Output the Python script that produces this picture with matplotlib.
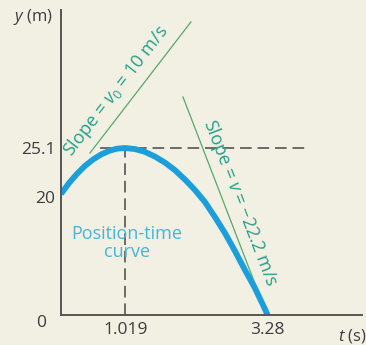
import numpy as np
import matplotlib
matplotlib.use('Agg')
import matplotlib.pyplot as plt

# ---------------------- Data ---------------------- #
# position-time curve (t in s, y in m)
curve_t = [0.0, 0.127, 0.254, 0.381, 0.508, 0.635, 0.762, 0.889, 1.019,
           1.175, 1.333, 1.492, 1.651, 1.810, 1.968, 2.127, 2.286, 2.444,
           2.603, 2.762, 2.921, 3.079, 3.238, 3.28]
curve_y = [20.32, 21.45, 22.41, 23.24, 23.90, 24.42, 24.80, 25.03, 25.1,
           24.99, 24.70, 24.21, 23.58, 22.79, 21.82, 20.73, 19.15, 16.61,
           13.90, 10.85, 7.63, 4.58, 1.02, 0.0]

# tangent segments (drawn slightly offset from the curve, like the figure)
tan1_t = [0.46, 2.063]
tan1_y = [24.58, 38.21]
tan2_t = [1.937, 3.254]
tan2_y = [30.41, 0.51]

t_peak, y_peak = 1.019, 25.1
t_land = 3.28

xtick_vals = [1.019, 3.28]
xtick_labels = ['1.019', '3.28']
ytick_vals = [0, 20, 25.1]
ytick_labels = ['0', '20', '25.1']

# the textbook axis is not to scale: piecewise stretch of the y axis
Y_ANCH = [0.0, 20.0, 25.1, 60.0]
H_ANCH = [0.0, 118.0, 167.0, 502.4]

def fwd(y):
    return np.interp(y, Y_ANCH, H_ANCH)

def inv(h):
    return np.interp(h, H_ANCH, Y_ANCH)

# ---------------------- Style ---------------------- #
BG = '#f2efe3'
CURVE = '#1b9fdc'
LABEL_BLUE = '#45b5da'
GREEN_LINE = '#56a86c'
GREEN_TEXT = '#23a08a'
DARK = '#3c3c3c'

plt.rcParams['font.family'] = ['Open Sans', 'DejaVu Sans']
plt.rcParams['mathtext.fontset'] = 'custom'
plt.rcParams['mathtext.rm'] = 'Open Sans'
plt.rcParams['mathtext.it'] = 'Open Sans:italic'

fig = plt.figure(figsize=(3.66, 3.45), dpi=100, facecolor=BG)
ax = fig.add_axes([61 / 366, 30 / 345, 301 / 366, 305 / 345])
ax.set_facecolor(BG)
ax.set_yscale('function', functions=(fwd, inv))
ax.set_xlim(0, 4.78)
ax.set_ylim(0, 39.46)

# dashed guide lines
ax.plot([0.62, 3.89], [y_peak, y_peak], color='#555555', lw=1.2,
        dashes=(7, 3.5))
ax.plot([t_peak, t_peak], [0, y_peak], color='#555555', lw=1.2,
        dashes=(7, 3.5))

# tangents
ax.plot(tan1_t, tan1_y, color=GREEN_LINE, lw=0.9)
ax.plot(tan2_t, tan2_y, color=GREEN_LINE, lw=0.9)

# curve
ax.plot(curve_t, curve_y, color=CURVE, lw=4.2, solid_capstyle='butt',
        solid_joinstyle='round')

# labels
ax.text(0.873, 31.03, r'Slope = $v_0$ = 10 m/s', rotation=52.4,
        rotation_mode='anchor', ha='center', va='center',
        color=GREEN_TEXT, fontsize=13)
ax.text(2.84, 18.98, r'Slope = $v$ = $-$22.2 m/s', rotation=-68.9,
        rotation_mode='anchor', ha='center', va='center',
        color=GREEN_TEXT, fontsize=13)
ax.text(1.05, 12.2, 'Position-time\ncurve', ha='center', va='center',
        color=LABEL_BLUE, fontsize=13, linespacing=0.95)

# axes
for s in ['top', 'right']:
    ax.spines[s].set_visible(False)
for s in ['left', 'bottom']:
    ax.spines[s].set_color('#555555')
    ax.spines[s].set_linewidth(1.4)

ax.set_xticks(xtick_vals)
ax.set_xticklabels(xtick_labels)
ax.set_yticks(ytick_vals)
ax.set_yticklabels(ytick_labels)
ax.tick_params(axis='x', length=0, pad=5, labelsize=12.5, labelcolor=DARK)
ax.tick_params(axis='y', length=0, pad=4, labelsize=12.5, labelcolor=DARK)
ax.get_yticklabels()[0].set_verticalalignment('top')
ax.get_yticklabels()[0].set_x(-0.03)
ax.minorticks_off()

fig.text(33 / 366, 1 - 17 / 345, r'$y$ (m)', ha='center', va='center',
         fontsize=12, color=DARK)
fig.text(352 / 366, 9 / 345, r'$t$ (s)', ha='center', va='center',
         fontsize=12, color=DARK)

fig.savefig('out.png', dpi=100, facecolor=BG)
